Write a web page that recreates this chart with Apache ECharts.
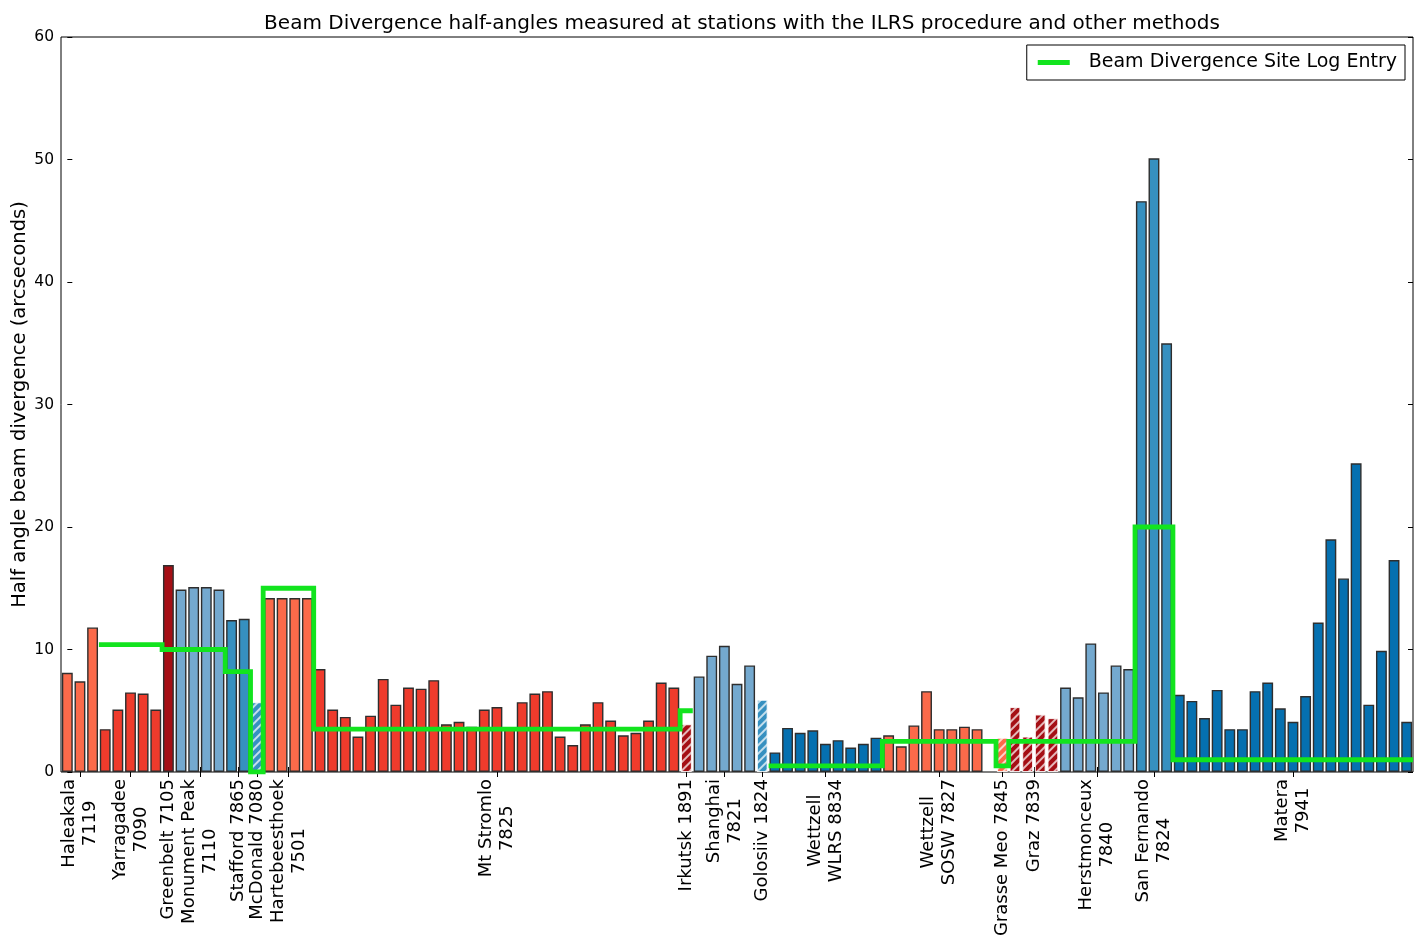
<!DOCTYPE html>
<html>
<head>
<meta charset="utf-8">
<script src="https://cdn.jsdelivr.net/npm/echarts@6/dist/echarts.min.js"></script>
<style>
  html, body { margin: 0; padding: 0; background: #fff; }
  #chart { width: 1419px; height: 937px; }
</style>
</head>
<body>
<div id="chart"></div>
<script>
// Half-angle beam divergence (arcseconds) measured per station, in plotting order
const HALEAKALA_7119      = [8.1, 7.4, 11.8];
const YARRAGADEE_7090     = [3.5, 5.1, 6.5, 6.4, 5.1];
const GREENBELT_7105      = [16.9];
const MONUMENT_PEAK_7110  = [14.9, 15.1, 15.1, 14.9];
const STAFFORD_7865       = [12.4, 12.5];
const MCDONALD_7080       = [5.7];
const HARTEBEESTHOEK_7501 = [14.2, 14.2, 14.2, 14.2];
const MT_STROMLO_7825     = [8.4, 5.1, 4.5, 2.9, 4.6, 7.6, 5.5, 6.9, 6.8, 7.5, 3.9, 4.1, 3.7, 5.1, 5.3,
                             3.6, 5.7, 6.4, 6.6, 2.9, 2.2, 3.9, 5.7, 4.2, 3.0, 3.2, 4.2, 7.3, 6.9];
const IRKUTSK_1891        = [3.9];
const SHANGHAI_7821       = [7.8, 9.5, 10.3, 7.2, 8.7];
const GOLOSIIV_1824       = [5.9];
const WETTZELL_WLRS_8834  = [1.6, 3.6, 3.2, 3.4, 2.3, 2.6, 2.0, 2.3, 2.8];
const WETTZELL_SOSW_7827  = [3.0, 2.1, 3.8, 6.6, 3.5, 3.5, 3.7, 3.5, null];
const GRASSE_MEO_7845     = [2.8];
const GRAZ_7839           = [5.3, 2.9, 4.7, 4.4];
const HERSTMONCEUX_7840   = [6.9, 6.1, 10.5, 6.5, 8.7, 8.4];
const SAN_FERNANDO_7824   = [46.6, 50.1, 35.0];
const MATERA_7941         = [6.3, 5.8, 4.4, 6.7, 3.5, 3.5, 6.6, 7.3, 5.2, 4.1, 6.2, 12.2, 19.0, 15.8,
                             25.2, 5.5, 9.9, 17.3, 4.1];

const stationLabels = [
  'Haleakala\n7119', 'Yarragadee\n7090', 'Greenbelt 7105', 'Monument Peak\n7110', 'Stafford 7865',
  'McDonald 7080', 'Hartebeesthoek\n7501', 'Mt Stromlo\n7825', 'Irkutsk 1891', 'Shanghai\n7821',
  'Golosiiv 1824', 'Wettzell\nWLRS 8834', 'Wettzell\nSOSW 7827', 'Grasse Meo 7845', 'Graz 7839',
  'Herstmonceux\n7840', 'San Fernando\n7824', 'Matera\n7941'
];
const stationValues = [
  HALEAKALA_7119, YARRAGADEE_7090, GREENBELT_7105, MONUMENT_PEAK_7110, STAFFORD_7865,
  MCDONALD_7080, HARTEBEESTHOEK_7501, MT_STROMLO_7825, IRKUTSK_1891, SHANGHAI_7821,
  GOLOSIIV_1824, WETTZELL_WLRS_8834, WETTZELL_SOSW_7827, GRASSE_MEO_7845, GRAZ_7839,
  HERSTMONCEUX_7840, SAN_FERNANDO_7824, MATERA_7941
];
// Beam divergence recorded in each station's site log (null = no entry)
const siteLogEntry = [null, 10.4, 10.0, 10.0, 8.2, 0.0, 15.0, 3.5, 5.0, null, null, 0.5, 2.5, 0.5, 2.5, 2.5, 20.0, 1.0];
const stationFill = ['salmon', 'red', 'darkRed', 'lightBlue', 'midBlue', 'midBlue', 'salmon', 'red', 'darkRed',
                     'lightBlue', 'midBlue', 'darkBlue', 'salmon', 'salmon', 'darkRed', 'lightBlue', 'midBlue', 'darkBlue'];
const stationHatched = [false, false, false, false, false, true, false, false, true,
                        false, true, false, false, true, true, false, false, false];

const PALETTE = {
  salmon: '#fb6a4a', red: '#ef3b2c', darkRed: '#a50f15',
  lightBlue: '#74a9cf', midBlue: '#3690c0', darkBlue: '#0570b0'
};
const FONT = 'DejaVu Sans';
const LOG_GREEN = '#12e41e';

// Expand stations into bars, per-bar site log values and the label edge axis
const barData = [];
const logPerBar = [];
stationValues.forEach((vals, s) => {
  vals.forEach(v => {
    const hatched = stationHatched[s];
    const color = PALETTE[stationFill[s]];
    barData.push({
      value: v === null ? '-' : v,
      itemStyle: hatched ? {
        color: color,
        borderColor: 'rgba(255,255,255,0.6)',
        borderWidth: 1,
        decal: {
          symbol: 'rect', symbolSize: 1,
          dashArrayX: [1, 0], dashArrayY: [1.1, 3.2],
          rotation: -Math.PI / 4,
          color: 'rgba(255,255,255,0.7)'
        }
      } : { color: color, borderColor: '#2e2e2e', borderWidth: 1.4 }
    });
    logPerBar.push(siteLogEntry[s]);
  });
});
const N = barData.length;
const barCategories = barData.map((_, i) => String(i));

// Edge axis: position j = 2*i+1 is the centre of bar i, even positions are bar edges
const edgeLabels = new Array(2 * N + 1).fill('');
let first = 0;
stationValues.forEach((vals, s) => {
  edgeLabels[2 * first + vals.length] = stationLabels[s];
  first += vals.length;
});

// Step line across the full width of each bar that has a site log value
const logLine = [];
logPerBar.forEach((v, i) => {
  if (v === null) {
    logLine.push([i, '-']);
  } else {
    logLine.push([i - 0.5, v], [i + 0.5, v]);
  }
});

const tickShown = (idx, val) => val !== '';

const chart = echarts.init(document.getElementById('chart'), null, { renderer: 'canvas' });
chart.setOption({
  animation: false,
  backgroundColor: '#fff',
  textStyle: { fontFamily: FONT },
  title: {
    text: 'Beam Divergence half-angles measured at stations with the ILRS procedure and other methods',
    left: 737, textAlign: 'center', top: 9,
    textStyle: { fontFamily: FONT, fontSize: 20, fontWeight: 'normal', color: '#000' }
  },
  legend: {
    data: ['Beam Divergence Site Log Entry'],
    right: 14, top: 45,
    icon: 'rect', itemWidth: 32, itemHeight: 5,
    padding: [8, 8, 8, 11],
    borderColor: '#000', borderWidth: 1,
    textStyle: { fontFamily: FONT, fontSize: 19, color: '#000', padding: [0, 0, 0, 14] }
  },
  grid: {
    left: 61, right: 6, top: 37, bottom: 165,
    outerBoundsMode: 'none', containLabel: false,
    show: true, borderColor: '#000', borderWidth: 1, backgroundColor: 'transparent'
  },
  xAxis: [
    {
      type: 'category', position: 'bottom', data: edgeLabels, boundaryGap: false,
      axisLine: { show: false },
      axisTick: { show: true, inside: true, length: 5, interval: tickShown, lineStyle: { color: '#000' } },
      axisLabel: {
        show: true, interval: 0, rotate: 90, margin: 7, color: '#000',
        fontFamily: FONT, fontSize: 18,
        formatter: v => v ? v.split('\n').map(l => '{c|' + l + '}').join('\n') : '',
        rich: { c: { align: 'center', fontFamily: FONT, fontSize: 18, lineHeight: 21, color: '#000' } }
      },
      splitLine: { show: false }
    },
    {
      type: 'category', position: 'top', data: edgeLabels, boundaryGap: false,
      axisLine: { show: false },
      axisTick: { show: true, inside: true, length: 5, interval: tickShown, lineStyle: { color: '#000' } },
      axisLabel: { show: false },
      splitLine: { show: false }
    },
    {
      type: 'category', data: barCategories, show: false, boundaryGap: true
    },
    {
      type: 'value', min: -0.5, max: N - 0.5, show: false
    }
  ],
  yAxis: [
    {
      type: 'value', position: 'left', min: 0, max: 60, interval: 10,
      axisLine: { show: false },
      axisTick: { show: true, inside: true, length: 5, lineStyle: { color: '#000' } },
      axisLabel: { color: '#000', fontFamily: FONT, fontSize: 15.5, margin: 7 },
      splitLine: { show: false },
      name: 'Half angle beam divergence (arcseconds)',
      nameLocation: 'middle', nameGap: 31, nameMoveOverlap: false,
      nameTextStyle: { fontFamily: FONT, fontSize: 19.5, color: '#000' }
    },
    {
      type: 'value', position: 'right', min: 0, max: 60, interval: 10,
      axisLine: { show: false },
      axisTick: { show: true, inside: true, length: 5, lineStyle: { color: '#000' } },
      axisLabel: { show: false },
      splitLine: { show: false }
    }
  ],
  series: [
    {
      name: 'Half angle', type: 'bar', xAxisIndex: 2, yAxisIndex: 0,
      data: barData, barCategoryGap: '14%', z: 2
    },
    {
      name: 'Beam Divergence Site Log Entry', type: 'line', xAxisIndex: 3, yAxisIndex: 0,
      data: logLine, showSymbol: false, symbol: 'none', connectNulls: false,
      itemStyle: { color: LOG_GREEN },
      lineStyle: { color: LOG_GREEN, width: 4.8, join: 'miter', cap: 'butt' },
      z: 5
    }
  ]
});
</script>
</body>
</html>
